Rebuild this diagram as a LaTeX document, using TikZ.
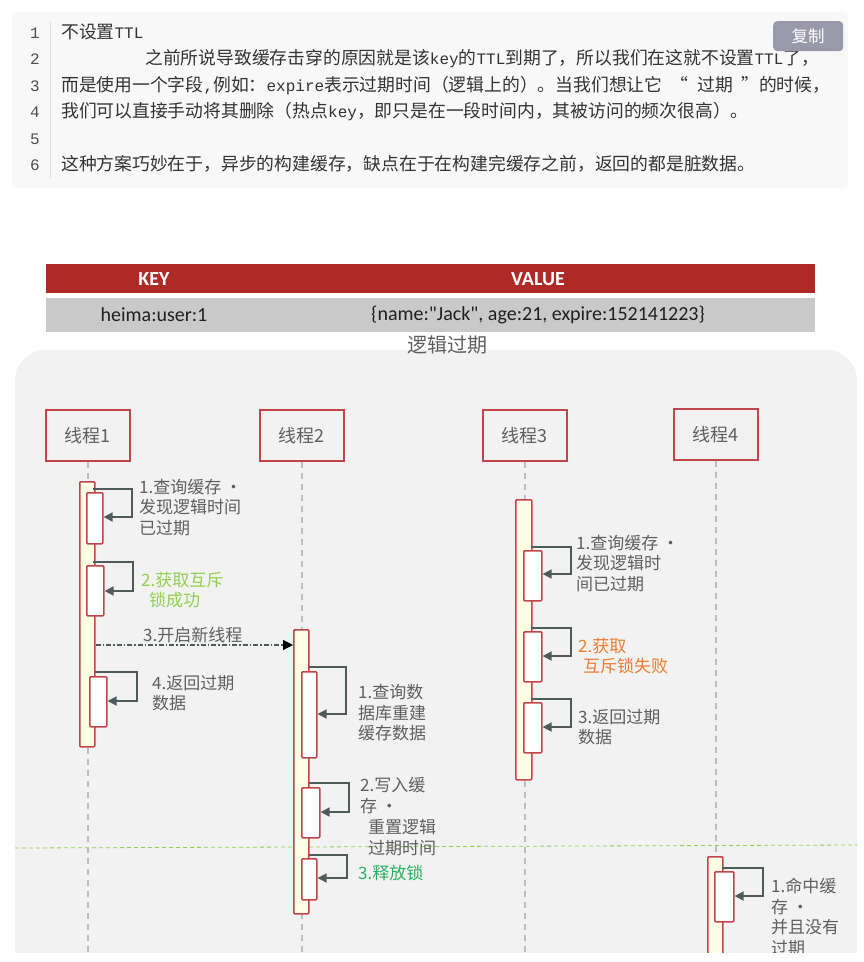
\documentclass[tikz,border=0pt]{standalone}
\usepackage{fontspec}
\setmainfont{Noto Sans CJK SC}
\newfontfamily\monof{Liberation Mono}
\newfontfamily\calib{Carlito}
\usetikzlibrary{arrows.meta}
\newcommand\latn[1]{{\monof\fontsize{16}{16}\selectfont #1}}
\definecolor{codebg}{HTML}{F8F8F8}
\definecolor{codetxt}{HTML}{333333}
\definecolor{lnum}{HTML}{4D4D4D}
\definecolor{sepl}{HTML}{DDDDDD}
\definecolor{btn}{HTML}{9A99AA}
\definecolor{keyred}{HTML}{AE2A27}
\definecolor{rowgray}{HTML}{C9C9C9}
\definecolor{panel}{HTML}{F2F2F2}
\definecolor{boxred}{HTML}{C0464A}
\definecolor{barfill}{HTML}{FFFFE6}
\definecolor{lbl}{HTML}{5F5F5F}
\definecolor{msg}{HTML}{4F5A5A}
\definecolor{lifeline}{HTML}{BDBDBD}
\definecolor{lgreen}{HTML}{92D050}
\definecolor{dgreen}{HTML}{2BB160}
\definecolor{orng}{HTML}{ED7D31}
\tikzset{
  codeline/.style={anchor=base west, inner sep=0, text=codetxt, font=\fontsize{17.8}{20}\selectfont},
  linenum/.style={anchor=base east, inner sep=0, text=lnum, font=\monof\fontsize{16}{16}\selectfont},
  thread/.style={draw=boxred, line width=1.7pt, fill=panel, minimum width=84pt, minimum height=51pt, inner sep=0, font=\fontsize{18}{20}\selectfont, text=lbl, anchor=north west},
  actbar/.style={draw=boxred, line width=1.6pt, fill=barfill, inner sep=0, anchor=north west, rounded corners=1pt},
  actbox/.style={draw=boxred, line width=1.6pt, fill=white, inner sep=0, anchor=north west, rounded corners=1pt},
  life/.style={draw=lifeline, line width=1.4pt, dash pattern=on 6pt off 5pt},
  selfmsg/.style={draw=msg, line width=1.7pt, -{Triangle[length=9pt,width=9pt]}},
  asyncmsg/.style={draw=msg, line width=1.2pt, dash pattern=on 5pt off 2pt on 1.5pt off 2pt, -{Triangle[length=10pt,width=10pt,black]}},
  lab/.style={anchor=north west, inner sep=0, align=left, text=lbl, font=\fontsize{17}{20.5}\selectfont},
  tabtxt/.style={inner sep=0, font=\calib\fontsize{20}{22}\selectfont},
}
\begin{document}
\begin{tikzpicture}[x=1pt,y=-1pt]
\useasboundingbox (0,0) rectangle (864,962);
\fill[white] (0,0) rectangle (864,962);
% ---------- code block ----------
\fill[codebg, rounded corners=6pt] (12,12) rectangle (848,188);
\draw[sepl, line width=1pt] (50,22) -- (50,178);
\node[linenum] (n1) at (40,38.4) {1};
\node[linenum] (n2) at (40,64.4) {2};
\node[linenum] (n3) at (40,91.4) {3};
\node[linenum] (n4) at (40,117.4) {4};
\node[linenum] (n5) at (40,144.4) {5};
\node[linenum] (n6) at (40,170.4) {6};
\node[codeline] (c1) at (61,38.4) {不设置\latn{TTL}};
\node[codeline] (c2) at (145,64.4) {之前所说导致缓存击穿的原因就是该\latn{key}的\latn{TTL}到期了，所以我们在这就不设置\latn{TTL}了，};
\node[codeline] (c3) at (61,91.4) {而是使用一个字段\latn{,}例如：\latn{expire}表示过期时间（逻辑上的）。当我们想让它\hspace{8.5pt}“\hspace{8.5pt}过期\hspace{8.5pt}”的时候，};
\node[codeline] (c4) at (61,117.4) {我们可以直接手动将其删除（热点\latn{key}，即只是在一段时间内，其被访问的频次很高）。};
\node[codeline] (c6) at (61,170.4) {这种方案巧妙在于，异步的构建缓存，缺点在于在构建完缓存之前，返回的都是脏数据。};
\node[fill=btn, rounded corners=4pt, minimum width=70pt, minimum height=30pt, inner sep=0, text=white, font=\fontsize{16.5}{18}\selectfont, anchor=north west] (copy) at (773,21) {复制};
% ---------- table ----------
\fill[keyred] (46,264) rectangle (815,293);
\fill[rowgray] (46,298) rectangle (815,332);
\node[tabtxt, text=white, font=\calib\bfseries\fontsize{20}{22}\selectfont] (key) at (154,279) {KEY};
\node[tabtxt, text=white, font=\calib\bfseries\fontsize{20}{22}\selectfont] (value) at (538,279) {VALUE};
\node[tabtxt, text=black!88] (kname) at (154,315) {heima:user:1};
\node[tabtxt, text=black!88] (kval) at (538,315) {\{name:"Jack", age:21, expire:152141223\}};
% ---------- diagram ----------
\begin{scope}
\clip (0,340) rectangle (864,952);
\fill[panel, rounded corners=30pt] (15,350) rectangle (857,1010);
\draw[lgreen, line width=0.8pt, dash pattern=on 4pt off 3pt] (15,848) -- (857,845);
\node[thread] (h1) at (45,409) {线程1};
\node[thread] (h2) at (259,409) {线程2};
\node[thread] (h3) at (482,409) {线程3};
\node[thread] (h4) at (673,408) {线程4};
\draw[life] (h1.south) -- (h1.south |- 0,955);
\draw[life] (h2.south) -- (h2.south |- 0,955);
\draw[life] (h3.south) -- (h3.south |- 0,955);
\draw[life] (h4.south) -- (h4.south |- 0,955);
% activation bars
\node[actbar, minimum width=15pt, minimum height=265pt] (a1) at (79,481) {};
\node[actbar, minimum width=15pt, minimum height=284pt] (a2) at (293,629) {};
\node[actbar, minimum width=16pt, minimum height=280pt] (a3) at (515,499) {};
\node[actbar, minimum width=15pt, minimum height=120pt] (a4) at (707,856) {};
% boxes
\node[actbox, minimum width=16pt, minimum height=51pt] (b11) at (86,492) {};
\node[actbox, minimum width=17pt, minimum height=50pt] (b12) at (86,565) {};
\node[actbox, minimum width=17pt, minimum height=50pt] (b13) at (89,676) {};
\node[actbox, minimum width=15pt, minimum height=86pt] (b21) at (301,671) {};
\node[actbox, minimum width=18pt, minimum height=50pt] (b22) at (301,787) {};
\node[actbox, minimum width=15pt, minimum height=41pt] (b23) at (301,858) {};
\node[actbox, minimum width=18pt, minimum height=50pt] (b31) at (523,550) {};
\node[actbox, minimum width=18pt, minimum height=50pt] (b32) at (523,631) {};
\node[actbox, minimum width=18pt, minimum height=50pt] (b33) at (523,702) {};
\node[actbox, minimum width=19pt, minimum height=50pt] (b41) at (714,871) {};
% self messages
\coordinate (s11) at (93,489);
\draw[selfmsg] (s11) -- (132,489) -- (132,517) -- (b11.east |- 0,517);
\coordinate (s12) at (93,562);
\draw[selfmsg] (s12) -- (133,562) -- (133,591) -- (b12.east |- 0,591);
\coordinate (s13) at (95,672);
\draw[selfmsg] (s13) -- (137,672) -- (137,701) -- (b13.east |- 0,701);
\coordinate (s21) at (309,667);
\draw[selfmsg] (s21) -- (346,667) -- (346,714) -- (b21.east |- 0,714);
\coordinate (s22) at (309,783);
\draw[selfmsg] (s22) -- (349,783) -- (349,812) -- (b22.east |- 0,812);
\coordinate (s23) at (309,855);
\draw[selfmsg] (s23) -- (347,855) -- (347,878) -- (b23.east |- 0,878);
\coordinate (s31) at (531,547);
\draw[selfmsg] (s31) -- (571,547) -- (571,574) -- (b31.east |- 0,574);
\coordinate (s32) at (531,628);
\draw[selfmsg] (s32) -- (571,628) -- (571,656) -- (b32.east |- 0,656);
\coordinate (s33) at (531,699);
\draw[selfmsg] (s33) -- (571,699) -- (571,727) -- (b33.east |- 0,727);
\coordinate (s41) at (722,868);
\draw[selfmsg] (s41) -- (763,868) -- (763,896) -- (b41.east |- 0,896);
% async message
\draw[asyncmsg] (a1.east |- 0,645) -- (a2.west |- 0,645);
% labels
\node[lab] (t11) at (139,479) {1.查询缓存 ·\\发现逻辑时间\\已过期};
\node[lab, text=lgreen] (t12) at (141,572) {2.获取互斥\\\hspace*{8pt}锁成功};
\node[lab] (t13) at (143,627) {3.开启新线程};
\node[lab] (t14) at (152,675) {4.返回过期\\数据};
\node[lab] (t21) at (358,684) {1.查询数\\据库重建\\缓存数据};
\node[lab, font=\fontsize{17}{21}\selectfont] (t22) at (360,777) {2.写入缓\\存 ·\\\hspace*{8pt}重置逻辑\\\hspace*{8pt}过期时间};
\node[lab, text=dgreen] (t23) at (358,865) {3.释放锁};
\node[lab] (t31) at (576,535) {1.查询缓存 ·\\发现逻辑时\\间已过期};
\node[lab, text=orng] (t32) at (578,638) {2.获取\\\hspace*{5pt}互斥锁失败};
\node[lab] (t33) at (578,709) {3.返回过期\\数据};
\node[lab] (t41) at (771,878) {1.命中缓\\存 ·\\并且没有\\过期};
\end{scope}
\node[inner sep=0, text=lbl, font=\fontsize{20}{22}\selectfont] (title) at (447,345) {逻辑过期};
\end{tikzpicture}
\end{document}
